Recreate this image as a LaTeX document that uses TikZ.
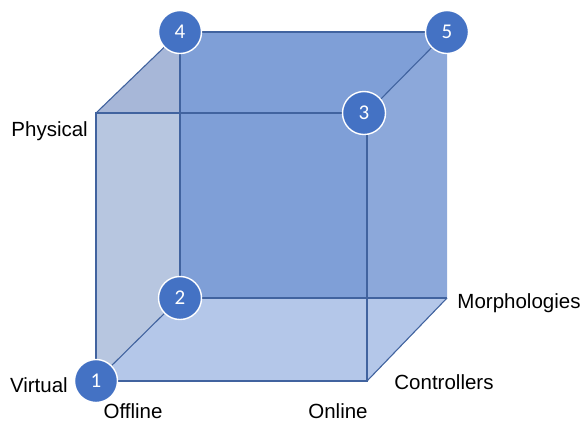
\documentclass[tikz,border=0pt]{standalone}
\usepackage{fontspec}
\setmainfont{Liberation Sans}
\newfontfamily\numfont{Carlito}
\definecolor{backc}{HTML}{7F9FD7}
\definecolor{rightc}{HTML}{8CA8DA}
\definecolor{leftc}{HTML}{B7C6E0}
\definecolor{topc}{HTML}{A7B7D8}
\definecolor{botc}{HTML}{B4C7E9}
\definecolor{edgec}{HTML}{41639F}
\definecolor{dotc}{HTML}{4472C4}
\begin{document}
\begin{tikzpicture}[x=1pt,y=-1pt,
  edge/.style={draw=edgec,line width=1.1pt},
  numdot/.style={circle,fill=dotc,draw=white,line width=1.4pt,minimum size=43pt,inner sep=0pt,text=white,font=\numfont\fontsize{21}{21}\selectfont},
  lbl/.style={font=\fontsize{20.5}{22}\selectfont,text=black,inner sep=0pt}]
\useasboundingbox (0,0) rectangle (586,424);
% corners
\coordinate (f1) at (96,381);  % front bottom left
\coordinate (f2) at (367,381); % front bottom right
\coordinate (f3) at (367,113); % front top right
\coordinate (f4) at (96,113);  % front top left
\coordinate (b1) at (180,298); % back bottom left
\coordinate (b2) at (447,298); % back bottom right
\coordinate (b3) at (447,32);  % back top right
\coordinate (b4) at (180,32);  % back top left
% faces
\fill[backc] (b1) -- (b2) -- (b3) -- (b4) -- cycle;
\fill[rightc] (f3) -- (b3) -- (b2) -- (f2) -- cycle;
\fill[botc] (f1) -- (f2) -- (b2) -- (b1) -- cycle;
\fill[leftc] (f1) -- (f4) -- (b4) -- (b1) -- cycle;
\fill[topc] (f4) -- (b4) -- (180,113) -- cycle;
% edges
\draw[edge] (f1) -- (f2) -- (f3) -- (f4) -- cycle;
\draw[edge] (b1) -- (b2);
\draw[edge] (b4) -- (b3);
\draw[edge] (b4) -- (b1);
\draw[edge] (f4) -- (b4);
\draw[edge] (f3) -- (b3);
\draw[edge] (f1) -- (b1);
\draw[edge] (f2) -- (b2);
% numbered dots
\node[numdot] (n1) at (f1) {1};
\node[numdot] (n2) at (b1) {2};
\node[numdot] (n3) at (364,113) {3};
\node[numdot] (n4) at (b4) {4};
\node[numdot] (n5) at (b3) {5};
% labels
\node[lbl,anchor=east] (physical) at (88,131) {Physical};
\node[lbl,anchor=east] (virtual) at (68,385) {Virtual};
\node[lbl] (offline) at (133,411) {Offline};
\node[lbl] (online) at (338,411) {Online};
\node[lbl] (controllers) at (444,382) {Controllers};
\node[lbl] (morph) at (519,303) {Morphologies};
\end{tikzpicture}
\end{document}
